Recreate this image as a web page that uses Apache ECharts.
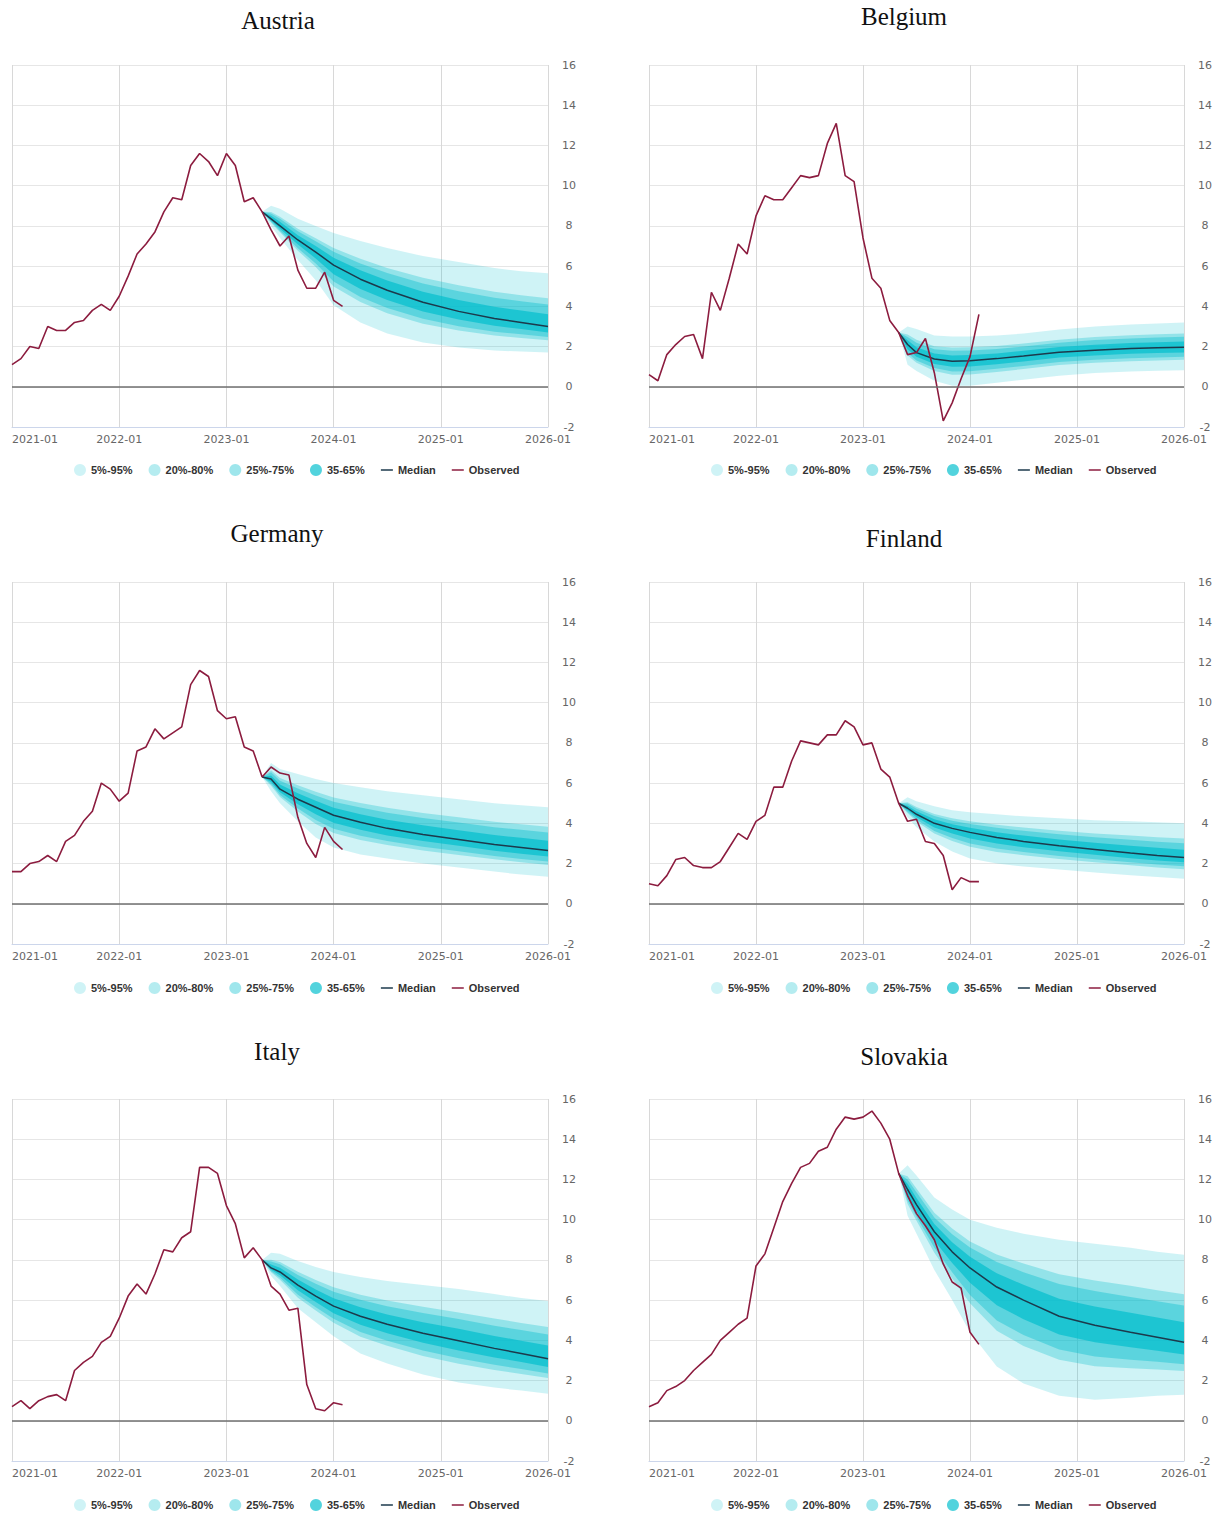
<!DOCTYPE html>
<html><head><meta charset="utf-8">
<script src="https://cdn.jsdelivr.net/npm/echarts@6/dist/echarts.min.js"></script>
<style>html,body{margin:0;padding:0;background:#fff}#c{width:1223px;height:1515px}</style>
</head><body><div id="c"></div>
<script>
// ---------- DATA ----------
const tickLabels = ['2021-01','2022-01','2023-01','2024-01','2025-01','2026-01'];
const bandNames = ['5%-95%','20%-80%','25%-75%','35-65%'];
const obsStartMonth = 0; // 2021-01
const forecastMonths = [28,29,30,32,34,36,39,42,46,50,54,57,60]; // months since 2021-01

// Austria
const obsAustria = [1.1,1.4,2.0,1.9,3.0,2.8,2.8,3.2,3.3,3.8,4.1,3.8,4.5,5.5,6.6,7.1,7.7,8.7,9.4,9.3,11.0,11.6,11.2,10.5,11.6,11.0,9.2,9.4,8.7,7.8,7.0,7.5,5.8,4.9,4.9,5.7,4.3,4.0];
const medAustria = [8.7,8.35,8.0,7.3,6.7,6.05,5.35,4.8,4.2,3.75,3.4,3.2,3.0];
const p95Austria = [8.7,9.0,8.85,8.35,8.0,7.65,7.25,6.9,6.5,6.2,5.9,5.75,5.65];
const p80Austria = [8.7,8.69,8.45,7.86,7.39,6.9,6.36,5.91,5.42,5.05,4.73,4.55,4.4];
const p75Austria = [8.7,8.62,8.35,7.73,7.23,6.71,6.13,5.66,5.14,4.75,4.43,4.25,4.09];
const p65Austria = [8.7,8.5,8.2,7.54,7.0,6.42,5.79,5.28,4.73,4.31,3.98,3.79,3.61];
const p35Austria = [8.7,8.27,7.86,7.07,6.38,5.59,4.86,4.31,3.74,3.34,3.03,2.87,2.7];
const p25Austria = [8.7,8.21,7.75,6.89,6.13,5.23,4.47,3.92,3.38,3.01,2.74,2.61,2.47];
const p20Austria = [8.7,8.16,7.68,6.77,5.96,4.99,4.21,3.66,3.14,2.8,2.55,2.43,2.31];
const p05Austria = [8.7,8.0,7.4,6.3,5.3,4.05,3.2,2.65,2.2,1.95,1.8,1.75,1.7];

// Belgium
const obsBelgium = [0.6,0.3,1.6,2.1,2.5,2.6,1.4,4.7,3.8,5.4,7.1,6.6,8.5,9.5,9.3,9.3,9.9,10.5,10.4,10.5,12.1,13.1,10.5,10.2,7.4,5.4,4.9,3.3,2.7,1.6,1.7,2.4,0.7,-1.7,-0.8,0.4,1.5,3.6];
const medBelgium = [2.7,2.1,1.7,1.38,1.27,1.3,1.4,1.53,1.72,1.82,1.9,1.94,1.97];
const p95Belgium = [2.7,3.0,2.87,2.55,2.5,2.5,2.55,2.65,2.85,3.0,3.1,3.15,3.2];
const p80Belgium = [2.7,2.6,2.34,2.02,1.95,1.96,2.03,2.15,2.34,2.47,2.56,2.61,2.65];
const p75Belgium = [2.7,2.48,2.19,1.87,1.79,1.8,1.88,2.0,2.19,2.32,2.4,2.45,2.49];
const p65Belgium = [2.7,2.31,1.97,1.65,1.55,1.58,1.66,1.79,1.98,2.09,2.18,2.22,2.25];
const p35Belgium = [2.7,1.87,1.49,1.13,0.99,1.01,1.12,1.26,1.45,1.56,1.64,1.68,1.71];
const p25Belgium = [2.7,1.68,1.31,0.93,0.76,0.77,0.9,1.03,1.23,1.34,1.42,1.46,1.49];
const p20Belgium = [2.7,1.55,1.19,0.79,0.6,0.61,0.74,0.88,1.08,1.19,1.27,1.31,1.34];
const p05Belgium = [2.7,1.1,0.78,0.3,0.05,0.05,0.2,0.35,0.55,0.68,0.76,0.8,0.82];

// Germany
const obsGermany = [1.6,1.6,2.0,2.1,2.4,2.1,3.1,3.4,4.1,4.6,6.0,5.7,5.1,5.5,7.6,7.8,8.7,8.2,8.5,8.8,10.9,11.6,11.3,9.6,9.2,9.3,7.8,7.6,6.3,6.8,6.5,6.4,4.3,3.0,2.3,3.8,3.1,2.7];
const medGermany = [6.3,6.2,5.7,5.2,4.8,4.4,4.05,3.75,3.45,3.2,2.95,2.8,2.65];
const p95Germany = [6.3,7.0,6.7,6.45,6.2,6.0,5.8,5.6,5.4,5.2,5.0,4.9,4.8];
const p80Germany = [6.3,6.64,6.25,5.89,5.57,5.28,5.01,4.77,4.52,4.3,4.08,3.96,3.83];
const p75Germany = [6.3,6.54,6.12,5.73,5.39,5.07,4.79,4.53,4.27,4.04,3.81,3.68,3.55];
const p65Germany = [6.3,6.38,5.93,5.49,5.12,4.77,4.45,4.18,3.9,3.66,3.42,3.28,3.14];
const p35Germany = [6.3,6.06,5.54,4.95,4.45,4.03,3.68,3.4,3.12,2.88,2.64,2.49,2.35];
const p25Germany = [6.3,5.95,5.41,4.74,4.17,3.73,3.38,3.12,2.84,2.61,2.38,2.23,2.1];
const p20Germany = [6.3,5.87,5.31,4.59,3.97,3.52,3.17,2.92,2.65,2.43,2.21,2.06,1.93];
const p05Germany = [6.3,5.6,5.0,4.1,3.3,2.8,2.45,2.25,2.0,1.8,1.6,1.45,1.35];

// Finland
const obsFinland = [1.0,0.9,1.4,2.2,2.3,1.9,1.8,1.8,2.1,2.8,3.5,3.2,4.1,4.4,5.8,5.8,7.1,8.1,8.0,7.9,8.4,8.4,9.1,8.8,7.9,8.0,6.7,6.3,5.0,4.1,4.2,3.1,3.0,2.4,0.7,1.3,1.1,1.1];
const medFinland = [5.0,4.75,4.45,4.0,3.75,3.55,3.3,3.1,2.88,2.7,2.52,2.4,2.3];
const p95Finland = [5.0,5.3,5.1,4.85,4.65,4.55,4.45,4.35,4.25,4.15,4.1,4.05,4.0];
const p80Finland = [5.0,5.05,4.81,4.47,4.25,4.1,3.93,3.79,3.63,3.5,3.39,3.31,3.24];
const p75Finland = [5.0,4.98,4.72,4.36,4.13,3.97,3.78,3.63,3.46,3.31,3.18,3.09,3.01];
const p65Finland = [5.0,4.88,4.6,4.2,3.96,3.78,3.56,3.39,3.2,3.03,2.88,2.78,2.69];
const p35Finland = [5.0,4.65,4.3,3.79,3.49,3.25,3.0,2.81,2.61,2.44,2.27,2.15,2.06];
const p25Finland = [5.0,4.56,4.18,3.62,3.27,3.0,2.75,2.57,2.38,2.22,2.06,1.95,1.86];
const p20Finland = [5.0,4.5,4.09,3.5,3.12,2.83,2.58,2.41,2.23,2.07,1.91,1.81,1.72];
const p05Finland = [5.0,4.3,3.8,3.1,2.6,2.25,2.0,1.85,1.7,1.55,1.42,1.33,1.25];

// Italy
const obsItaly = [0.7,1.0,0.6,1.0,1.2,1.3,1.0,2.5,2.9,3.2,3.9,4.2,5.1,6.2,6.8,6.3,7.3,8.5,8.4,9.1,9.4,12.6,12.6,12.3,10.7,9.8,8.1,8.6,8.0,6.7,6.3,5.5,5.6,1.8,0.6,0.5,0.9,0.8];
const medItaly = [8.0,7.6,7.4,6.75,6.2,5.7,5.2,4.8,4.35,3.98,3.6,3.35,3.08];
const p95Italy = [8.0,8.35,8.3,7.95,7.65,7.4,7.15,6.95,6.75,6.55,6.3,6.1,5.95];
const p80Italy = [8.0,8.01,7.9,7.41,7.0,6.64,6.27,5.98,5.67,5.39,5.09,4.86,4.66];
const p75Italy = [8.0,7.92,7.78,7.25,6.81,6.41,6.02,5.7,5.36,5.06,4.73,4.51,4.29];
const p65Italy = [8.0,7.77,7.61,7.03,6.53,6.09,5.65,5.29,4.9,4.57,4.22,3.98,3.74];
const p35Italy = [8.0,7.51,7.24,6.49,5.9,5.35,4.77,4.35,3.88,3.5,3.15,2.92,2.68];
const p25Italy = [8.0,7.43,7.11,6.27,5.65,5.07,4.42,3.98,3.49,3.11,2.78,2.57,2.35];
const p20Italy = [8.0,7.38,7.01,6.12,5.48,4.87,4.18,3.73,3.22,2.84,2.53,2.33,2.13];
const p05Italy = [8.0,7.2,6.7,5.6,4.9,4.2,3.35,2.85,2.3,1.9,1.65,1.5,1.35];

// Slovakia
const obsSlovakia = [0.7,0.9,1.5,1.7,2.0,2.5,2.9,3.3,4.0,4.4,4.8,5.1,7.7,8.3,9.6,10.9,11.8,12.6,12.8,13.4,13.6,14.5,15.1,15.0,15.1,15.4,14.8,14.0,12.3,11.2,10.3,9.7,9.0,7.8,6.9,6.6,4.4,3.8];
const medSlovakia = [12.3,11.5,10.75,9.4,8.4,7.6,6.65,6.0,5.2,4.75,4.4,4.15,3.9];
const p95Slovakia = [12.3,12.7,12.2,11.1,10.5,10.0,9.6,9.3,9.0,8.8,8.6,8.4,8.25];
const p80Slovakia = [12.3,12.16,11.55,10.34,9.56,8.92,8.27,7.82,7.29,6.98,6.71,6.49,6.29];
const p75Slovakia = [12.3,12.0,11.36,10.11,9.28,8.61,7.89,7.39,6.8,6.45,6.16,5.94,5.73];
const p65Slovakia = [12.3,11.78,11.08,9.79,8.88,8.15,7.33,6.76,6.07,5.68,5.37,5.13,4.9];
const p35Slovakia = [12.3,11.2,10.42,8.96,7.85,6.86,5.74,5.05,4.29,3.9,3.65,3.48,3.3];
const p25Slovakia = [12.3,10.95,10.14,8.6,7.39,6.26,4.99,4.26,3.54,3.2,3.03,2.93,2.81];
const p20Slovakia = [12.3,10.78,9.95,8.35,7.08,5.84,4.48,3.72,3.03,2.71,2.61,2.55,2.47];
const p05Slovakia = [12.3,10.2,9.3,7.5,6.0,4.4,2.7,1.85,1.25,1.05,1.15,1.25,1.3];

// ---------- LAYOUT ----------
const panels = [
  {title:'Austria', obs:obsAustria, med:medAustria, lo:[p05Austria,p20Austria,p25Austria,p35Austria], hi:[p95Austria,p80Austria,p75Austria,p65Austria], left:12, top:65, w:536, tx:278, ty:20, lx:74, ly:464},
  {title:'Belgium', obs:obsBelgium, med:medBelgium, lo:[p05Belgium,p20Belgium,p25Belgium,p35Belgium], hi:[p95Belgium,p80Belgium,p75Belgium,p65Belgium], left:649, top:65, w:535, tx:904, ty:16, lx:711, ly:464},
  {title:'Germany', obs:obsGermany, med:medGermany, lo:[p05Germany,p20Germany,p25Germany,p35Germany], hi:[p95Germany,p80Germany,p75Germany,p65Germany], left:12, top:582, w:536, tx:277, ty:533, lx:74, ly:982},
  {title:'Finland', obs:obsFinland, med:medFinland, lo:[p05Finland,p20Finland,p25Finland,p35Finland], hi:[p95Finland,p80Finland,p75Finland,p65Finland], left:649, top:582, w:535, tx:904, ty:538, lx:711, ly:982},
  {title:'Italy', obs:obsItaly, med:medItaly, lo:[p05Italy,p20Italy,p25Italy,p35Italy], hi:[p95Italy,p80Italy,p75Italy,p65Italy], left:12, top:1099, w:536, tx:277, ty:1051, lx:74, ly:1499},
  {title:'Slovakia', obs:obsSlovakia, med:medSlovakia, lo:[p05Slovakia,p20Slovakia,p25Slovakia,p35Slovakia], hi:[p95Slovakia,p80Slovakia,p75Slovakia,p65Slovakia], left:649, top:1099, w:535, tx:904, ty:1056, lx:711, ly:1499}
];
const bandColors = ['rgba(0,190,205,0.19)','rgba(0,190,205,0.29)','rgba(0,190,205,0.38)','rgba(0,190,205,0.68)'];
const medianColor = '#1c3a4c';
const obsColor = '#8c1c3f';
const axisFont = 'DejaVu Sans';
const lineIcon = 'path://M0,0 L16,0 L16,2 L0,2 Z';

const grids = [], xAxes = [], yAxes = [], series = [], legends = [], graphics = [];
panels.forEach((p, i) => {
  grids.push({left:p.left, top:p.top, width:p.w, height:362, containLabel:false});
  xAxes.push({
    gridIndex:i, type:'value', min:0, max:60, interval:12,
    axisLine:{show:true, onZero:false, lineStyle:{color:'#ccd6eb', width:1}},
    axisTick:{show:false},
    splitLine:{show:true, lineStyle:{color:'#d8d8d8', width:1}},
    axisLabel:{show:true, margin:7, color:'#666', fontSize:11, fontFamily:axisFont,
      showMinLabel:true, showMaxLabel:true, alignMinLabel:'left',
      formatter:(v)=> tickLabels[Math.round(v/12)]}
  });
  yAxes.push({
    gridIndex:i, type:'value', position:'right', min:-2, max:16, interval:2,
    axisLine:{show:false}, axisTick:{show:false},
    splitLine:{show:true, lineStyle:{color:'#e6e6e6', width:1}},
    axisLabel:{margin:21, align:'center', color:'#666', fontSize:11, fontFamily:axisFont}
  });
  for (let b = 0; b < 4; b++) {
    const lo = p.lo[b], hi = p.hi[b], col = bandColors[b];
    series.push({
      type:'custom', name:bandNames[b], xAxisIndex:i, yAxisIndex:i, silent:true,
      itemStyle:{color:col},
      data: forecastMonths.map((m,k)=>[m, lo[k], hi[k]]),
      encode:{x:0, y:[1,2]},
      renderItem:(params, api) => {
        if (params.dataIndex !== 0) return null;
        const pts = [];
        for (let k = 0; k < forecastMonths.length; k++) pts.push(api.coord([forecastMonths[k], hi[k]]));
        for (let k = forecastMonths.length - 1; k >= 0; k--) pts.push(api.coord([forecastMonths[k], lo[k]]));
        return {type:'polygon', shape:{points:pts}, style:{fill:col, stroke:null}};
      },
      animation:false, z:1
    });
  }
  series.push({
    type:'line', name:'Median', xAxisIndex:i, yAxisIndex:i,
    data: forecastMonths.map((m,k)=>[m, p.med[k]]),
    symbol:'none', silent:true, itemStyle:{color:medianColor},
    lineStyle:{color:medianColor, width:1.5}, animation:false, z:3,
    markLine:{silent:true, symbol:'none', label:{show:false}, animation:false,
      lineStyle:{color:'#6f6f6f', width:1.5, type:'solid'}, data:[{yAxis:0}]}
  });
  series.push({
    type:'line', name:'Observed', xAxisIndex:i, yAxisIndex:i,
    data: p.obs.map((v,k)=>[obsStartMonth + k, v]),
    symbol:'none', silent:true, itemStyle:{color:obsColor},
    lineStyle:{color:obsColor, width:1.6}, animation:false, z:4
  });
  legends.push({
    left:p.lx, top:p.ly, orient:'horizontal', padding:0,
    itemWidth:12, itemHeight:12, itemGap:16,
    selectedMode:false,
    textStyle:{fontFamily:'Liberation Sans', fontSize:11, fontWeight:'bold', color:'#333'},
    data:[
      {name:bandNames[0], icon:'circle'},
      {name:bandNames[1], icon:'circle'},
      {name:bandNames[2], icon:'circle'},
      {name:bandNames[3], icon:'circle'},
      {name:'Median', icon:lineIcon, itemStyle:{color:medianColor}},
      {name:'Observed', icon:lineIcon, itemStyle:{color:obsColor}}
    ]
  });
  graphics.push({
    type:'text', x:p.tx, y:p.ty, silent:true,
    style:{text:p.title, fill:'#111', font:'25px "Liberation Serif"', textAlign:'center', textVerticalAlign:'middle'}
  });
});

const chart = echarts.init(document.getElementById('c'), null, {renderer:'svg', width:1223, height:1515});
chart.setOption({
  animation:false,
  backgroundColor:'#ffffff',
  grid:grids, xAxis:xAxes, yAxis:yAxes, series:series, legend:legends, graphic:graphics
});
</script></body></html>
